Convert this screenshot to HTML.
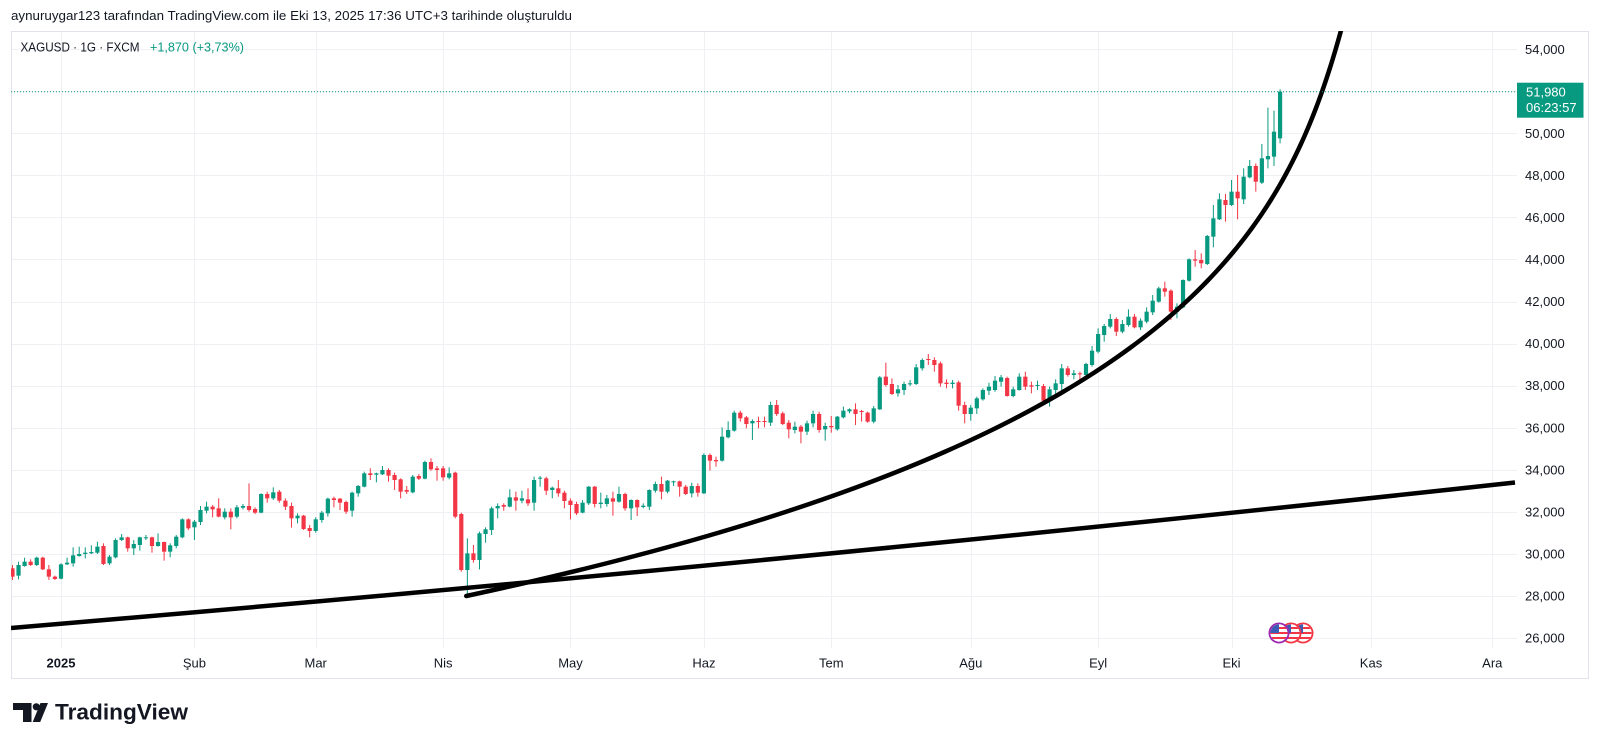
<!DOCTYPE html>
<html><head><meta charset="utf-8">
<style>
html,body{margin:0;padding:0;background:#fff;}
svg{display:block;}
text{font-family:"Liberation Sans",Arial,sans-serif;}
</style></head>
<body>
<svg id="s" width="1600" height="745" viewBox="0 0 1600 745" xmlns="http://www.w3.org/2000/svg">
<defs>
<clipPath id="pane"><rect x="11" y="31" width="1506" height="617"/></clipPath>
<clipPath id="c1"><circle cx="1303" cy="633" r="8.6"/></clipPath>
<clipPath id="c2"><circle cx="1291" cy="633" r="8.6"/></clipPath>
<clipPath id="c3"><circle cx="1279" cy="633" r="8.6"/></clipPath>
</defs>
<rect x="0" y="0" width="1600" height="745" fill="#fff"/>
<text x="11" y="20" font-size="13" fill="#131722" textLength="561" lengthAdjust="spacingAndGlyphs">aynuruygar123 tarafından TradingView.com ile Eki 13, 2025 17:36 UTC+3 tarihinde oluşturuldu</text>
<g id="grid" stroke="#eef0f4" stroke-width="1"></g>
<rect x="11.5" y="31.5" width="1577" height="647" fill="none" stroke="#e0e3eb" stroke-width="1"/>
<text x="20.5" y="51.5" font-size="12.5" fill="#131722" textLength="119" lengthAdjust="spacingAndGlyphs">XAGUSD · 1G · FXCM</text>
<text x="150" y="51.5" font-size="12.5" fill="#089981" textLength="94" lengthAdjust="spacingAndGlyphs">+1,870 (+3,73%)</text>
<g id="candles" clip-path="url(#pane)"></g>
<g id="lines" clip-path="url(#pane)" fill="none" stroke="#000" stroke-width="4.5" stroke-linecap="round"></g>
<line x1="11" y1="91.7" x2="1517" y2="91.7" stroke="#089981" stroke-width="1" stroke-dasharray="1 2"/>
<g id="icons">
  <g clip-path="url(#c1)"><rect x="1293" y="623" width="20" height="20" fill="#fff"/><rect x="1293" y="627" width="20" height="2" fill="#f23645"/><rect x="1293" y="632" width="20" height="2" fill="#f23645"/><rect x="1293" y="637" width="20" height="2" fill="#f23645"/><rect x="1293" y="624" width="10" height="9" fill="#3c5bb4"/></g>
  <circle cx="1303" cy="633" r="9.6" fill="none" stroke="#f23645" stroke-width="1.8"/>
  <g clip-path="url(#c2)"><rect x="1281" y="623" width="20" height="20" fill="#fff"/><rect x="1281" y="627" width="20" height="2" fill="#f23645"/><rect x="1281" y="632" width="20" height="2" fill="#f23645"/><rect x="1281" y="637" width="20" height="2" fill="#f23645"/><rect x="1281" y="624" width="10" height="9" fill="#3c5bb4"/></g>
  <circle cx="1291" cy="633" r="9.6" fill="none" stroke="#f23645" stroke-width="1.8"/>
  <g clip-path="url(#c3)"><rect x="1269" y="623" width="20" height="20" fill="#fff"/><rect x="1269" y="627" width="20" height="2" fill="#f23645"/><rect x="1269" y="632" width="20" height="2" fill="#f23645"/><rect x="1269" y="637" width="20" height="2" fill="#f23645"/><rect x="1269" y="624" width="10" height="9" fill="#3c5bb4"/></g>
  <circle cx="1279" cy="633" r="9.6" fill="none" stroke="#9c27b0" stroke-width="1.8"/>
</g>
<g id="plabels" font-size="13" fill="#131722"></g>
<rect x="1517" y="82.7" width="66.5" height="35" fill="#089981"/>
<text x="1526" y="96.3" font-size="13" fill="#fff">51,980</text>
<text x="1526" y="111.8" font-size="13" fill="#fff">06:23:57</text>
<g id="tlabels" font-size="13" fill="#131722" text-anchor="middle"></g>
<g id="logo" fill="#131722">
  <path d="M13 703 H31.5 V722 H23 V710 H13 Z"/>
  <circle cx="36.3" cy="706.8" r="3.6"/>
  <path d="M40.5 703 H48 L40.2 722 H32.7 Z"/>
  <text x="55" y="719.5" font-size="22" font-weight="bold" textLength="133" lengthAdjust="spacingAndGlyphs">TradingView</text>
</g>
</svg>
<script>
(function(){
var NS="http://www.w3.org/2000/svg";
function el(tag,attrs,parent,txt){var e=document.createElementNS(NS,tag);for(var k in attrs)e.setAttribute(k,attrs[k]);if(txt!==undefined)e.textContent=txt;parent.appendChild(e);return e;}
var X0=61,SP=6.065;
function bx(i){return X0+i*SP;}
function py(p){return 638-(p-26)*21.03;}
var grid=document.getElementById('grid');
var vx=[0,22,42,63,84,106,127,150,171,193,216,236];
vx.forEach(function(i){var x=Math.round(bx(i))+0.5;el('line',{x1:x,y1:31,x2:x,y2:648},grid);});
for(var p=26;p<=54;p+=2){var y=Math.round(py(p))+0.5;el('line',{x1:11,y1:y,x2:1517,y2:y},grid);}
var pl=document.getElementById('plabels');
for(var p=26;p<=54;p+=2){if(p===52)continue;el('text',{x:1525,y:(py(p)+4.6).toFixed(1)},pl,p+',000');}
var tl=document.getElementById('tlabels');
var names=['2025','Şub','Mar','Nis','May','Haz','Tem','Ağu','Eyl','Eki','Kas','Ara'];
vx.forEach(function(i,k){var a={x:bx(i).toFixed(1),y:667.5};if(k===0)a['font-weight']='bold';el('text',a,tl,names[k]);});
var A=[[0,415,440,405,450],[1,405,437,395,448],[1,395,408,383,410],[0,395,405,388,408],[1,383,405,380,408],[0,383,418,380,420],[0,418,440,405,450],[0,440,447,437,450],[1,403,446,400,448],[1,398,403,383,405],
[1,376,400,352,410],[1,372,378,350,380],[1,368,372,352,385],[1,366,370,346,372],[1,350,368,335,372],[0,348,402,340,405],[1,380,400,375,405],[1,330,382,325,385],[1,322,330,312,333],[0,322,355,320,365],
[1,342,355,330,375],[1,322,345,320,362],[1,322,325,315,330],[0,322,348,320,368],[1,336,348,310,350],[0,336,365,335,392],[1,346,365,340,382],[1,320,348,315,355],[1,268,322,265,325],[0,268,295,265,300],
[1,275,292,270,330],[1,240,276,228,285],[1,230,242,215,250],[0,230,238,225,262],[0,235,260,205,262],[1,245,262,235,268],[0,245,262,235,298],[1,232,260,225,265],[1,228,233,222,238],[0,228,240,160,245],
[0,237,248,232,252],[1,192,248,190,250],[0,192,205,185,218],[1,187,205,172,210],[0,185,212,180,218],[0,212,230,205,240],[0,228,265,218,293],[1,257,265,250,280],[0,257,297,255,300],[0,294,303,285,322],
[1,268,303,262,308],[1,248,270,243,278],[1,206,250,203,260],[0,205,210,200,232],[0,206,218,204,240],[0,216,245,212,252],[1,188,242,185,260],[1,168,190,165,200],[1,130,170,125,172],[0,130,135,115,150],
[1,130,134,128,157],[1,120,133,108,135],[0,120,137,115,155],[0,135,150,128,180],[0,148,185,145,205],[0,180,185,168,192],[1,140,187,135,190],[0,138,146,132,150],[1,96,146,92,148],[0,96,118,85,122],
[0,115,120,108,152]];
var B=[[0,385,412,378,422],[1,400,413,382,418],[0,398,530,395,535],[0,522,690,518,695],[1,640,690,595,762],[0,640,660,615,668],[1,580,660,575,688],[1,568,582,562,608],[1,505,570,500,585],[1,498,505,490,535],
[0,495,500,490,512],[1,472,500,448,502],[0,472,482,455,512],[1,475,482,452,490],[0,478,490,445,498],[1,420,488,410,512],[1,413,416,408,440],[0,415,452,410,465],[1,443,450,440,475],[0,445,460,420,470],
[0,458,483,452,505],[0,482,495,475,538],[0,492,520,485,525],[1,488,518,480,520],[1,440,490,438,495],[0,440,492,438,502],[1,488,492,458,505],[1,475,492,465,500],[0,475,485,455,527],[1,462,485,440,488],
[0,462,505,458,512],[1,480,505,478,540],[0,480,502,478,528],[1,497,501,490,505],[1,450,500,448,510],[1,432,452,425,458],[0,432,455,410,478],[1,422,455,420,460],[1,424,427,422,438],[0,424,440,422,470],
[0,440,462,435,465],[1,438,460,428,472],[0,438,458,430,470],[1,345,460,340,462],[0,345,362,340,392],[0,360,364,350,380],[1,290,362,262,365],[1,270,292,244,295],[1,218,272,212,275],[0,218,235,212,245],
[0,232,252,228,265],[1,243,250,238,300],[0,243,246,230,265],[0,243,246,230,262],[1,195,248,185,258],[0,195,222,180,228],[0,220,252,215,255],[0,248,268,240,295],[1,260,270,245,280],[0,260,275,255,310],
[1,250,275,242,285],[1,222,250,212,262],[0,222,270,215,278],[1,258,268,248,302],[0,258,262,228,278],[1,230,268,228,272],[1,212,232,200,235],[1,208,214,205,220],[0,208,222,190,255],[0,213,216,210,245],
[0,218,245,215,248],[1,205,245,198,250],[1,112,208,108,210]];
var C=[[0,410,435,368,440],[0,432,462,415,465],[1,448,460,435,470],[1,432,450,425,465],[1,430,433,420,438],[1,382,432,372,435],[1,360,385,355,392],[0,357,360,342,375],[0,360,375,352,395],[0,370,430,365,440],
[0,428,432,418,445],[1,428,432,420,445],[0,427,497,422,512],[0,495,522,485,550],[1,503,522,495,542],[1,475,505,470,522],[1,450,478,445,482],[1,440,452,428,465],[1,422,450,408,455],[1,412,425,405,440],
[0,414,468,410,470],[1,448,468,440,472],[1,410,450,400,452],[0,410,440,395,450],[0,436,440,425,460],[1,435,438,422,450],[0,438,482,432,490],[1,448,480,440,500],[1,430,450,418,462],[1,385,432,372,460],
[0,385,405,378,410],[1,400,405,390,418],[0,400,403,395,432],[1,372,405,368,410],[1,332,375,318,380],[1,282,335,265,340],[1,258,285,252,305],[1,237,260,222,265],[0,237,275,232,288],[1,252,275,240,280],
[1,230,255,208,260],[0,230,262,222,265],[1,242,262,235,270],[1,215,245,202,250],[1,182,217,165,225],[1,145,185,140,188],[0,145,155,125,170],[0,152,215,148,240],[1,200,215,190,235]];
var D=[[1,780,862,778,865],[1,718,782,715,785],[0,718,722,690,740],[0,720,730,700,745],[1,648,732,645,735],[1,595,650,555,682],[1,538,598,520,600],[0,540,555,522,605],[1,515,555,480,558],[0,515,535,465,598],
[1,470,538,445,552],[1,438,472,420,475],[0,438,485,430,515],[1,415,488,372,492],[1,408,418,263,445],[1,335,410,272,438],[1,215,355,208,370]];
var segs=[{o:430,s:-8,d:A},{o:340,s:63,d:B},{o:240,s:136,d:C},{o:20,s:185,d:D}];
var cg=document.getElementById('candles');
segs.forEach(function(sg){
  sg.d.forEach(function(r,i){
    var idx=sg.s+i, x=bx(idx);
    var col=r[0]?'#089981':'#f23645';
    var bt=sg.o+r[1]/3, bb=sg.o+r[2]/3, wt=sg.o+r[3]/3, wb=sg.o+r[4]/3;
    if(bb-bt<1){bb=bt+1;}
    el('rect',{x:(x-0.5).toFixed(2),y:wt.toFixed(2),width:1,height:Math.max(1,wb-wt).toFixed(2),fill:col},cg);
    el('rect',{x:(x-2.1).toFixed(2),y:bt.toFixed(2),width:4.2,height:(bb-bt).toFixed(2),fill:col},cg);
  });
});
var lg=document.getElementById('lines');
el('path',{d:'M11 628 Q763 564.7 1515 482.5','stroke-linecap':'butt'},lg);
var d='';
for(var u=42;u<=650;u+=4){
  var x=1396-1147*Math.exp(-u/200);
  var t=(u-42)/565; if(t>1)t=1;
  x+=7*Math.pow(Math.sin(Math.PI*t),2)*t;
  var y=638-u;
  d+=(u===42?'M':' L')+x.toFixed(2)+' '+y.toFixed(2);
}
el('path',{d:d,'stroke-linejoin':'round'},lg);
})();
</script>
</body></html>
